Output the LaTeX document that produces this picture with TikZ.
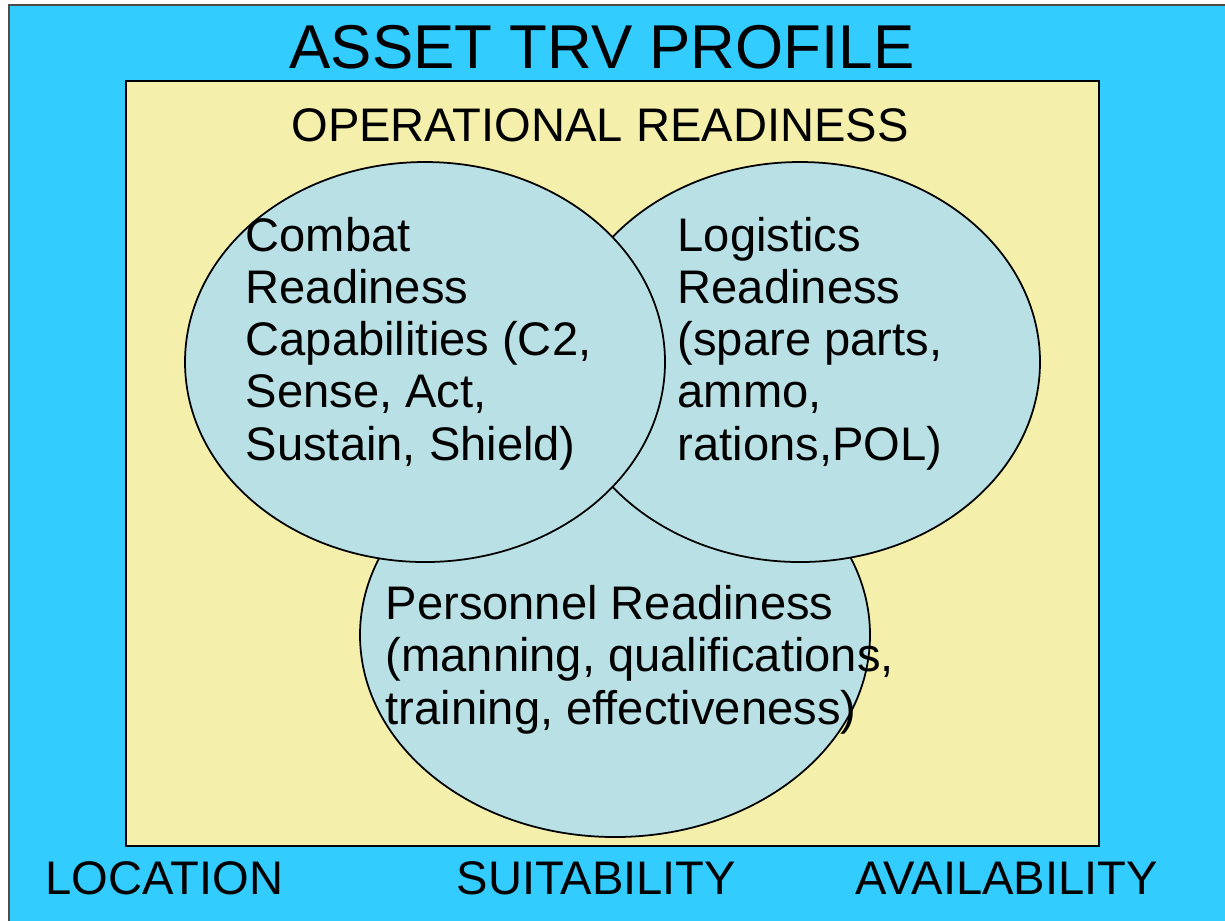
\documentclass[tikz,border=0pt]{standalone}
\usepackage{fontspec}
\setmainfont{Liberation Sans}
\definecolor{skyblue}{HTML}{33CCFF}
\definecolor{paleyellow}{HTML}{F4EFAB}
\definecolor{palecyan}{HTML}{B9E0E4}
\begin{document}
\begin{tikzpicture}[x=0.01cm,y=-0.01cm,
    blob/.style={draw=black,fill=palecyan,line width=0.5pt},
    txt/.style={inner sep=0pt,align=left,font=\fontsize{13.4}{14.8}\selectfont}]
			\useasboundingbox (0,0) rectangle (1225,920);
			\fill[white] (0,0) rectangle (1225,920);
			\draw[fill=skyblue,draw=black!70,line width=0.6pt] (9,5) rectangle (1240,940);
			\draw[fill=paleyellow,draw=black,line width=0.6pt] (126,81) rectangle (1099,846);
			% readiness circles, back to front
			\draw[blob] (615,635) ellipse [x radius=255,y radius=202];
			\draw[blob] (800,362) ellipse [x radius=240,y radius=200];
			\draw[blob] (425,362) ellipse [x radius=240,y radius=200];
			\node[inner sep=0pt,anchor=base,font=\fontsize{17.6}{20}\selectfont] (title) at (602,68) {ASSET TRV PROFILE};
			\node[inner sep=0pt,anchor=base,font=\fontsize{13.4}{14}\selectfont] (oper) at (600,141) {OPERATIONAL READINESS};
			% base of a multi-line node is its last line
			\node[txt,anchor=base west] (combat) at (245,460) {Combat\\Readiness\\Capabilities (C2,\\Sense, Act,\\Sustain, Shield)};
			\node[txt,anchor=base west] (logist) at (677,460) {Logistics\\Readiness\\(spare parts,\\ammo,\\rations,POL)};
			\node[txt,anchor=base west] (person) at (385,724) {Personnel Readiness\\(manning, qualifications,\\training, effectiveness)};
			\node[txt,anchor=base west] (loc) at (45,894) {LOCATION};
			\node[txt,anchor=base west] (suit) at (456,894) {SUITABILITY};
			\node[txt,anchor=base west] (avail) at (855,894) {AVAILABILITY};
\end{tikzpicture}
\end{document}
